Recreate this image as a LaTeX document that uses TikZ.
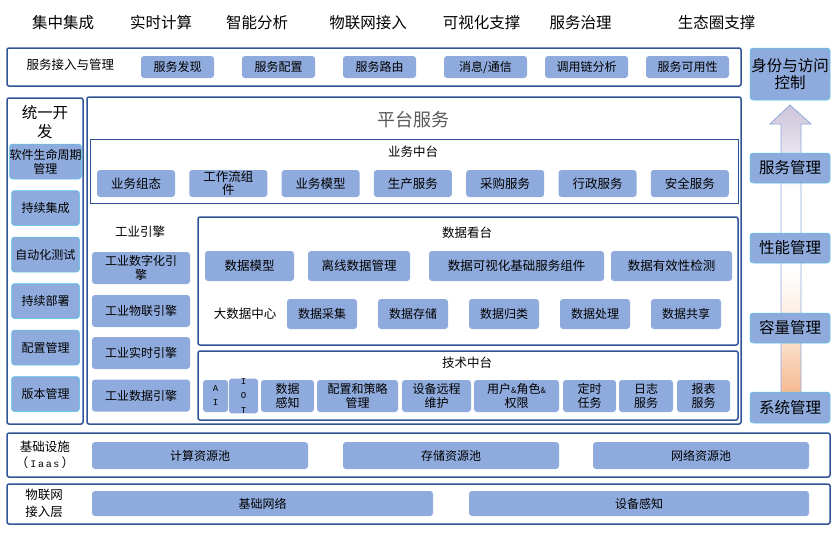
\documentclass[tikz,border=0pt]{standalone}
\usepackage{fontspec}
\setmainfont{Noto Sans CJK SC}
\newfontfamily\monofont{Liberation Mono}

\definecolor{framecol}{RGB}{47,85,151}
\definecolor{btncol}{RGB}{143,170,220}
\definecolor{edgecol}{RGB}{80,200,230}
\definecolor{titlecol}{RGB}{89,89,89}
\definecolor{arrowtop}{RGB}{205,196,218}
\definecolor{arrowbot}{RGB}{244,180,134}

\pgfdeclareverticalshading{mgrarrow}{100bp}{color(0bp)=(arrowbot); color(25bp)=(arrowbot);
	color(36bp)=(arrowbot!35!white); color(47bp)=(white); color(60bp)=(white);
	color(75bp)=(arrowtop); color(100bp)=(arrowtop)}

\tikzset{
	panel/.style = {draw = framecol, line width = 1.5pt, rounded corners = 2pt},
	thinpanel/.style = {draw = framecol, line width = 0.8pt},
	btn/.style = {fill = btncol, rounded corners = 3pt, inner sep = 0pt, align = center,
		font = \fontsize{12}{14}\selectfont},
	sidebtn/.style = {btn, draw = edgecol, line width = 0.5pt},
	boxtitle/.style = {align = center, inner sep = 0pt, font = \fontsize{12.5}{15}\selectfont},
	headline/.style = {inner sep = 0pt, font = \fontsize{15.5}{18}\selectfont}
}

\begin{document}
\begin{tikzpicture}[x = 1pt, y = -1pt]

	\useasboundingbox (0, 0) rectangle (839, 536);

	% Top row of capabilities

	\foreach \x/\t [count = \i] in {63/集中集成, 161/实时计算, 257/智能分析, 368/物联网接入,
		481.5/可视化支撑, 580.5/服务治理, 716.5/生态圈支撑}
		\node [headline] (cap\i) at (\x, 22.5) {\t};

	% Service access and management

	\draw [panel] (7, 48) rectangle (741, 86);
	\node [boxtitle] (svctitle) at (70.5, 64.5) {服务接入与管理};

	\foreach \x/\w/\t [count = \i] in {177.5/73/服务发现, 278.5/73/服务配置, 379.5/73/服务路由,
		485.5/83/{消息/通信}, 586.5/83/调用链分析, 687.5/83/服务可用性}
		\node [btn, minimum width = \w, minimum height = 22] (svc\i) at (\x, 67) {\t};

	% Unified development column

	\draw [panel] (7, 98) rectangle (83, 424);
	\node [headline, align = center, font = \fontsize{15.5}{19}\selectfont] (devtitle) at (45, 122) {统一开\\发};

	\foreach \t [count = \i] in {软件生命周期\\管理, 持续集成, 自动化测试, 持续部署, 配置管理, 版本管理}
		\node [sidebtn, minimum width = 68, minimum height = 35] (dev\i) at (45.5, 115 + 46.5 * \i) {\t};

	% Platform services

	\draw [panel] (87, 97) rectangle (741, 424);
	\node [headline, text = titlecol, font = \fontsize{18}{20}\selectfont] (platform) at (413, 120) {平台服务};

	% Business middle platform

	\draw [thinpanel] (90, 139) rectangle (738, 203);
	\node [boxtitle] (bustitle) at (413, 152) {业务中台};

	\foreach \t [count = \i] in {业务组态, 工作流组\\件, 业务模型, 生产服务, 采购服务, 行政服务, 安全服务}
		\node [btn, minimum width = 78, minimum height = 27, font = \fontsize{12.5}{13}\selectfont]
			(bus\i) at (43.7 + 92.3 * \i, 183.5) {\t};

	% Industrial engines

	\node [boxtitle] (engtitle) at (140, 232) {工业引擎};

	\foreach \t/\y [count = \i] in {工业数字化引\\擎/268, 工业物联引擎/311, 工业实时引擎/353, 工业数据引擎/395.5}
		\node [btn, minimum width = 98, minimum height = 32] (eng\i) at (141, \y) {\t};

	% Data platform

	\draw [panel] (198, 217) rectangle (738, 345);
	\node [boxtitle] (datatitle) at (467, 233) {数据看台};

	\foreach \x/\w/\t [count = \i] in {249.5/89/数据模型, 359/102/离线数据管理,
		516.5/175/数据可视化基础服务组件, 671.5/121/数据有效性检测}
		\node [btn, minimum width = \w, minimum height = 30, font = \fontsize{12.5}{15}\selectfont]
			(data\i) at (\x, 266) {\t};

	\node [boxtitle] (bigdata) at (245, 314) {大数据中心};

	\foreach \t [count = \i] in {数据采集, 数据存储, 数据归类, 数据处理, 数据共享}
		\node [btn, minimum width = 70, minimum height = 30] (big\i) at (231 + 91 * \i, 314) {\t};

	% Technology middle platform

	\draw [panel] (198, 351) rectangle (738, 420);
	\node [boxtitle] (techtitle) at (467, 363) {技术中台};

	\begin{scope}[every node/.style = {btn, minimum height = 32}]

		\node [minimum width = 25, font = \monofont\fontsize{9}{14}\selectfont] (tech1) at (215.5, 396) {A\\I};
		\node [minimum width = 29, font = \monofont\fontsize{9}{14.5}\selectfont] (tech2) at (243.5, 396) {I\\O\\T};
		\node [minimum width = 53] (tech3) at (287.5, 396) {数据\\感知};
		\node [minimum width = 81] (tech4) at (357.5, 396) {配置和策略\\管理};
		\node [minimum width = 69] (tech5) at (436.5, 396) {设备远程\\维护};
		\node [minimum width = 85] (tech6) at (516.5, 396)
			{用户{\fontsize{8}{10}\selectfont\&}角色{\fontsize{8}{10}\selectfont\&}\\权限};
		\node [minimum width = 53] (tech7) at (589.5, 396) {定时\\任务};
		\node [minimum width = 54] (tech8) at (646, 396) {日志\\服务};
		\node [minimum width = 53] (tech9) at (703.5, 396) {报表\\服务};

	\end{scope}

	% Right column: management arrow

	\shadedraw [shading = mgrarrow, draw = btncol, line width = 0.8pt]
		(790, 105) -- (811, 124) -- (801, 124) -- (801, 400) -- (781, 400)
		-- (781, 124) -- (770, 124) -- cycle;

	\begin{scope}[every node/.style = {sidebtn, minimum width = 80, font = \fontsize{15.5}{17}\selectfont}]

		\node [minimum height = 52] (idm) at (790, 74) {身份与访问\\控制};
		\node [minimum height = 30] (mgr1) at (790, 168) {服务管理};
		\node [minimum height = 30] (mgr2) at (790, 248) {性能管理};
		\node [minimum height = 30] (mgr3) at (790, 328) {容量管理};
		\node [minimum height = 31] (mgr4) at (790, 407.5) {系统管理};

	\end{scope}

	% Infrastructure

	\draw [panel] (7, 433) rectangle (830, 477);
	\node [boxtitle, font = \fontsize{12.5}{16}\selectfont] (infratitle) at (45, 454.5)
		{基础设施\\（\,{\monofont\fontsize{10}{12}\selectfont I\,a\,a\,s}\,）};

	\foreach \x/\t [count = \i] in {200/计算资源池, 451/存储资源池, 701/网络资源池}
		\node [btn, minimum width = 216, minimum height = 27] (infra\i) at (\x, 455.5) {\t};

	% IoT access layer

	\draw [panel] (7, 484) rectangle (830, 524);
	\node [boxtitle, font = \fontsize{12.5}{17}\selectfont] (iottitle) at (44, 503.5) {物联网\\接入层};

	\node [btn, minimum width = 341, minimum height = 25] (iot1) at (262.5, 503.5) {基础网络};
	\node [btn, minimum width = 340, minimum height = 25] (iot2) at (639, 503.5) {设备感知};

\end{tikzpicture}
\end{document}
